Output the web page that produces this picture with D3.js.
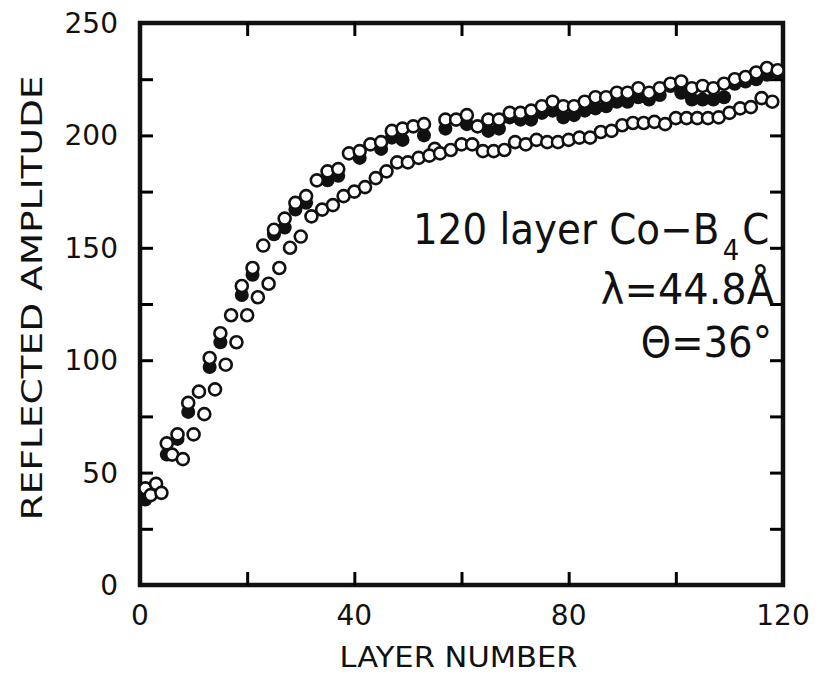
<!DOCTYPE html>
<html>
<head>
<meta charset="utf-8">
<script src="https://cdn.jsdelivr.net/npm/d3@7"></script>
<style>
  html, body { margin: 0; padding: 0; background: #fff; }
  svg { display: block; }
  text { font-family: "DejaVu Sans", sans-serif; fill: #111; }
</style>
</head>
<body>
<svg id="chart" width="821" height="679"></svg>
<script>
// ---- data ----
const oddLayers  = d3.range(1, 120, 2);   // 1,3,...,119
const evenLayers = d3.range(2, 119, 2);   // 2,4,...,118

// open circles, upper band (odd layers)
const openUpper = [43,45,63,67,81,86,101,112,120,133,
                   141,151,158,163,170,173,180,184,185,192,
                   193,196,197,202,203,204,205,194,207,207,
                   209,204,207,207,210,210,211,213,215,213,
                   213,215,217,217,219,219,221,219,221,223,
                   224,221,222,221,223,225,226,228,230,229];

// filled circles (odd layers, null = not shown)
const filled = [38,45,58,65,77,null,97,108,null,129,
                138,null,156,159,167,170,null,180,182,null,
                190,null,194,199,198,null,200,null,203,null,
                205,null,202,203,208,207,207,210,211,208,
                209,211,212,213,215,215,217,216,218,222,
                219,216,216,216,217,223,224,225,227,228];

// open circles, lower band (even layers)
const openLower = [40,41,58,56,67,76,87,98,108,120,
                   128,134,141,150,155,164,167,169,173,175,
                   177,181,184,188,188,190,191,192,193.5,196,
                   196,193,193,193.5,197,196,198,197,197,198,
                   199,199,201.5,202,204.5,205.5,205.5,206,205,207.7,
                   207.7,207.7,207.7,208,210,212,212.6,216.6,215];

const xTickLabels = [0, 40, 80, 120];
const xTickMarks = [20, 40, 60, 80, 100];
const yTickLabels = [0, 50, 100, 150, 200, 250];
const yTickMarks = d3.range(25, 250, 25);

// ---- layout ----
const svg = d3.select("#chart");
const L = 140, R = 783, T = 23, B = 585;
const x = d3.scaleLinear().domain([0, 120]).range([L, R]);
const y = d3.scaleLinear().domain([0, 250]).range([B, T]);
const tickLen = 13;

// frame
svg.append("rect").attr("x", L).attr("y", T).attr("width", R - L).attr("height", B - T)
  .attr("fill", "none").attr("stroke", "#111").attr("stroke-width", 4.5);

function styleAxis(g) {
  g.select(".domain").remove();
  g.selectAll(".tick line").attr("stroke", "#000").attr("stroke-width", 3);
  g.selectAll(".tick text").remove();
}
// inward tick marks on all four sides
svg.append("g").attr("transform", `translate(0,${B})`)
  .call(d3.axisBottom(x).tickValues(xTickMarks).tickSize(-tickLen)).call(styleAxis);
svg.append("g").attr("transform", `translate(0,${T})`)
  .call(d3.axisTop(x).tickValues(xTickMarks).tickSize(-tickLen)).call(styleAxis);
svg.append("g").attr("transform", `translate(${L},0)`)
  .call(d3.axisLeft(y).tickValues(yTickMarks).tickSize(-tickLen)).call(styleAxis);
svg.append("g").attr("transform", `translate(${R},0)`)
  .call(d3.axisRight(y).tickValues(yTickMarks).tickSize(-tickLen)).call(styleAxis);

// tick labels
svg.append("g").selectAll("text").data(xTickLabels).join("text")
  .attr("x", d => x(d)).attr("y", 625).attr("text-anchor", "middle")
  .attr("font-size", 28).text(d => d);
svg.append("g").selectAll("text").data(yTickLabels).join("text")
  .attr("x", 118).attr("y", d => y(d) + 10).attr("text-anchor", "end")
  .attr("font-size", 28).text(d => d);

// axis titles
svg.append("text").attr("x", (L + R) / 2 - 3).attr("y", 667).attr("text-anchor", "middle")
  .attr("font-size", 28).attr("textLength", 238).attr("lengthAdjust", "spacingAndGlyphs")
  .text("LAYER NUMBER");
svg.append("text").attr("transform", `translate(42, ${(T + B) / 2 - 6}) rotate(-90)`)
  .attr("text-anchor", "middle").attr("font-size", 28)
  .attr("textLength", 445).attr("lengthAdjust", "spacingAndGlyphs")
  .text("REFLECTED AMPLITUDE");

// data marks
const r = 6;
const gF = svg.append("g");
gF.selectAll("circle").data(oddLayers.map((l, i) => [l, filled[i]]).filter(d => d[1] != null))
  .join("circle").attr("cx", d => x(d[0])).attr("cy", d => y(d[1])).attr("r", r + 1)
  .attr("fill", "#111");
const gO = svg.append("g");
const openPts = oddLayers.map((l, i) => [l, openUpper[i]])
  .concat(evenLayers.map((l, i) => [l, openLower[i]]));
gO.selectAll("circle").data(openPts).join("circle")
  .attr("cx", d => x(d[0])).attr("cy", d => y(d[1])).attr("r", r)
  .attr("fill", "#fff").attr("stroke", "#111").attr("stroke-width", 2.6);

// annotation, horizontally condensed
const a1 = svg.append("g").attr("transform", "translate(413,244) scale(0.925,1)").attr("font-size", 42);
a1.append("text").attr("x", 0).attr("y", 0).text("120 layer Co\u2212B");
a1.append("text").attr("x", 335).attr("y", 16).attr("font-size", 28).text("4");
a1.append("text").attr("x", 356).attr("y", 0).text("C");
svg.append("g").attr("transform", "translate(774,304) scale(0.95,1)").attr("font-size", 42)
  .append("text").attr("text-anchor", "end").text("\u03bb=44.8\u00c5");
svg.append("g").attr("transform", "translate(772,357) scale(0.92,1)").attr("font-size", 42)
  .append("text").attr("text-anchor", "end").text("\u0398=36\u00b0");
</script>
</body>
</html>
